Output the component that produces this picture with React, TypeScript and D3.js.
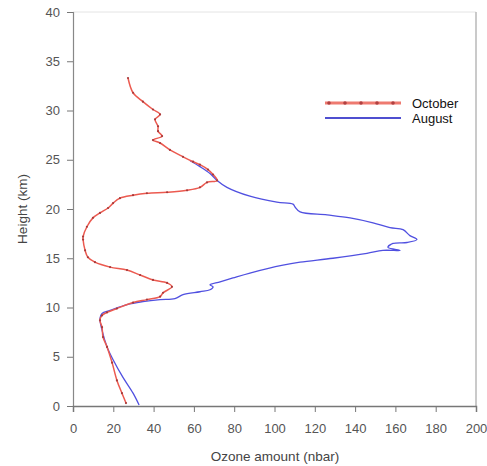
import React, { useRef, useEffect } from 'react';
import * as d3 from 'd3';

// ozone profiles: [ozone amount (nbar), height (km)]
const octoberOzone = [26.3, 24.3, 21.8, 19.4, 16.9, 14.9, 14.4, 13.4, 14.4, 16.9, 21.8, 29.8, 36.7, 43.2, 44.7, 49.1, 46.7, 39.7, 33.3, 26.8, 18.4, 10.9, 7.4, 6.0, 5.0, 5.0, 6.9, 9.9, 13.4, 17.4, 19.9, 23.3, 29.8, 36.7, 46.7, 56.6, 63.0, 66.5, 71.5, 69.5, 67.0, 63.0, 59.6, 54.6, 48.1, 43.2, 39.7, 44.2, 42.2, 42.2, 40.7, 43.2, 39.7, 34.7, 29.8, 27.3];
const octoberHeight = [0.3, 1.3, 2.6, 4.4, 6.0, 7.0, 8.0, 8.7, 9.2, 9.5, 9.9, 10.5, 10.8, 11.1, 11.5, 12.1, 12.5, 12.8, 13.3, 13.8, 14.1, 14.6, 15.1, 15.8, 16.9, 17.2, 18.2, 19.1, 19.6, 20.1, 20.6, 21.1, 21.4, 21.6, 21.7, 21.9, 22.2, 22.7, 22.9, 23.5, 24.0, 24.5, 24.8, 25.3, 26.0, 26.7, 27.0, 27.4, 27.9, 28.4, 29.1, 29.6, 30.1, 30.9, 31.8, 33.3];

const augustOzone = [32.8, 29.8, 24.8, 19.9, 16.9, 14.4, 13.4, 14.4, 18.4, 26.8, 34.7, 43.2, 50.6, 54.6, 63.0, 68.0, 69.5, 68.0, 73.0, 79.4, 87.8, 104.2, 112.7, 129.0, 145.9, 153.8, 162.3, 156.3, 158.8, 165.8, 170.7, 167.2, 163.8, 157.3, 148.9, 137.5, 126.1, 112.7, 110.2, 109.2, 101.2, 87.8, 76.4, 71.5, 68.0, 63.0, 58.1];
const augustHeight = [0.1, 1.3, 2.9, 4.7, 6.0, 7.7, 8.9, 9.4, 9.7, 10.3, 10.6, 10.8, 10.9, 11.3, 11.6, 11.8, 12.1, 12.3, 12.6, 13.0, 13.5, 14.3, 14.6, 15.0, 15.5, 15.8, 15.8, 16.1, 16.5, 16.6, 16.9, 17.3, 17.9, 18.1, 18.6, 19.1, 19.4, 19.7, 20.2, 20.5, 20.7, 21.3, 22.2, 22.9, 23.6, 24.3, 24.9];

const xTicks = [0, 20, 40, 60, 80, 100, 120, 140, 160, 180, 200];
const yTicks = [0, 5, 10, 15, 20, 25, 30, 35, 40];

const seriesNames = ['October', 'August'];

function App() {
  const svgRef = useRef<SVGSVGElement>(null);

  useEffect(() => {
    const svg = d3.select(svgRef.current);
    svg.selectAll('*').remove();

    const width = 487;
    const height = 466;
    const margin = { top: 12, right: 11, bottom: 60, left: 73 };
    const font = 'Arial, "Liberation Sans", sans-serif';

    svg.attr('width', width).attr('height', height);

    const x = d3.scaleLinear().domain([0, 200]).range([margin.left, width - margin.right]);
    const y = d3.scaleLinear().domain([0, 40]).range([height - margin.bottom, margin.top]);

    // frame (light top/right border)
    svg.append('line')
      .attr('x1', x(0)).attr('x2', x(200))
      .attr('y1', y(40)).attr('y2', y(40))
      .attr('stroke', '#e4e4e4');
    svg.append('line')
      .attr('x1', x(200)).attr('x2', x(200))
      .attr('y1', y(40)).attr('y2', y(0))
      .attr('stroke', '#b8b8b8').attr('stroke-width', 1.5);

    // y axis
    const yAxis = svg.append('g')
      .attr('transform', `translate(${x(0)},0)`)
      .call(d3.axisLeft(y).tickValues(yTicks).tickSize(6).tickPadding(7));
    yAxis.select('.domain').attr('stroke', '#888').attr('stroke-width', 1.2);
    yAxis.selectAll('.tick line').attr('stroke', '#777');
    yAxis.selectAll('text').attr('fill', '#555').attr('font-size', 13).attr('font-family', font);

    // x axis
    const xAxis = svg.append('g')
      .attr('transform', `translate(0,${y(0)})`)
      .call(d3.axisBottom(x).tickValues(xTicks).tickSize(6).tickPadding(12));
    xAxis.select('.domain').attr('stroke', '#777').attr('stroke-width', 1.5);
    xAxis.selectAll('.tick line').attr('stroke', '#777');
    xAxis.selectAll('text').attr('fill', '#555').attr('font-size', 13).attr('font-family', font);

    // axis titles
    svg.append('text')
      .attr('x', 275).attr('y', 461)
      .attr('text-anchor', 'middle')
      .attr('font-size', 13.5).attr('font-family', font)
      .attr('fill', '#444')
      .text('Ozone amount (nbar)');
    svg.append('text')
      .attr('transform', `translate(27,${209}) rotate(-90)`)
      .attr('text-anchor', 'middle')
      .attr('font-size', 13.5).attr('font-family', font)
      .attr('fill', '#444')
      .text('Height (km)');

    const line = d3.line<[number, number]>()
      .curve(d3.curveCatmullRom.alpha(0.5))
      .x(d => x(d[0]))
      .y(d => y(d[1]));

    const august = augustOzone.map((v, i) => [v, augustHeight[i]] as [number, number]);
    const october = octoberOzone.map((v, i) => [v, octoberHeight[i]] as [number, number]);

    svg.append('path')
      .datum(august)
      .attr('fill', 'none')
      .attr('stroke', '#5050e0')
      .attr('stroke-width', 1.3)
      .attr('d', line);

    svg.append('path')
      .datum(october)
      .attr('fill', 'none')
      .attr('stroke', '#ec5a50')
      .attr('stroke-width', 1.5)
      .attr('d', line);

    svg.append('g')
      .selectAll('circle')
      .data(october)
      .enter()
      .append('circle')
      .attr('cx', d => x(d[0]))
      .attr('cy', d => y(d[1]))
      .attr('r', 1.1)
      .attr('fill', '#a83a3a');

    // legend
    const legend = svg.append('g').attr('transform', 'translate(325,103)');
    legend.append('line')
      .attr('x1', 0).attr('x2', 76).attr('y1', 0).attr('y2', 0)
      .attr('stroke', '#ee7a70').attr('stroke-width', 3);
    legend.selectAll('circle')
      .data([4, 20, 36, 52, 68])
      .enter()
      .append('circle')
      .attr('cx', d => d).attr('cy', 0).attr('r', 1.8)
      .attr('fill', '#b04040');
    legend.append('line')
      .attr('x1', 0).attr('x2', 76).attr('y1', 15).attr('y2', 15)
      .attr('stroke', '#4f4fd0').attr('stroke-width', 1.8);
    legend.selectAll('text')
      .data(seriesNames)
      .enter()
      .append('text')
      .attr('x', 87)
      .attr('y', (d, i) => i * 15 + 4.5)
      .attr('font-size', 13).attr('font-family', font)
      .attr('fill', '#111')
      .text(d => d);
  }, []);

  return (
    <svg ref={svgRef} style={{ position: 'absolute', left: 0, top: 0, background: '#fff' }}></svg>
  );
}

export default App;
